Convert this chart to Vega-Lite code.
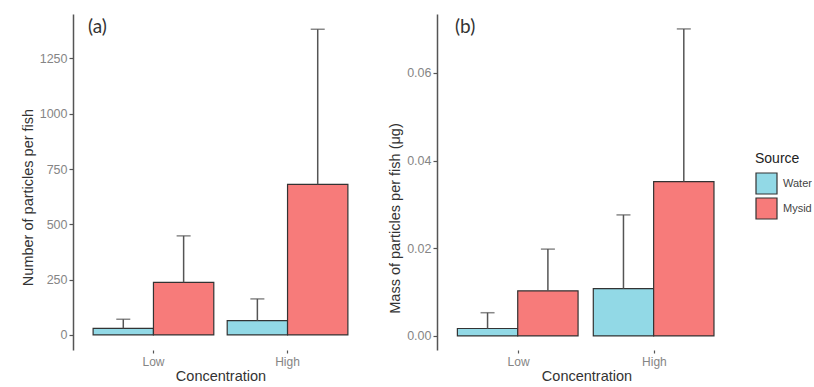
{
  "$schema": "https://vega.github.io/schema/vega-lite/v6.json",
  "background": "white",
  "padding": {"left": 20, "top": 14, "right": 0, "bottom": 0},
  "autosize": {"type": "pad"},
  "spacing": 19,
  "config": {
    "font": "Liberation Sans",
    "view": {"stroke": null},
    "axis": {
      "grid": false,
      "domainColor": "#555555",
      "domainWidth": 1.5,
      "tickColor": "#555555",
      "tickWidth": 1.2,
      "labelColor": "#858585",
      "labelFont": "Liberation Sans",
      "titleFont": "Liberation Sans",
      "titleFontWeight": "normal",
      "titleColor": "#333333"
    },
    "axisX": {"domain": false, "tickSize": 3, "labelFontSize": 12, "labelPadding": 3, "labelAngle": 0, "titleFontSize": 14.5, "titlePadding": 2},
    "axisY": {"tickSize": 4, "labelFontSize": 12.5, "labelPadding": 2, "titleFontSize": 14.5, "titlePadding": 4},
    "legend": {
      "orient": "none",
      "legendX": 682,
      "legendY": 138,
      "symbolType": "square",
      "symbolSize": 441,
      "symbolStrokeColor": "#333333",
      "symbolStrokeWidth": 1.2,
      "symbolOpacity": 1,
      "rowPadding": -3,
      "labelFontSize": 11,
      "labelColor": "#444444",
      "labelOffset": 5,
      "titleFontSize": 14,
      "titleFontWeight": "normal",
      "titleColor": "#222222",
      "titlePadding": 6
    },
    "title": {"font": "Lato", "fontSize": 19, "fontWeight": "normal", "color": "#333333", "anchor": "start", "frame": "group", "offset": 0}
  },
  "datasets": {
    "count": [
      {"Concentration": "Low", "Source": "Water", "mean": 30, "upper": 71},
      {"Concentration": "Low", "Source": "Mysid", "mean": 238, "upper": 448},
      {"Concentration": "High", "Source": "Water", "mean": 65, "upper": 163},
      {"Concentration": "High", "Source": "Mysid", "mean": 681, "upper": 1382}
    ],
    "mass": [
      {"Concentration": "Low", "Source": "Water", "mean": 0.0017, "upper": 0.0053},
      {"Concentration": "Low", "Source": "Mysid", "mean": 0.0103, "upper": 0.0198},
      {"Concentration": "High", "Source": "Water", "mean": 0.0108, "upper": 0.0276},
      {"Concentration": "High", "Source": "Mysid", "mean": 0.0352, "upper": 0.07}
    ]
  },
  "resolve": {"scale": {"color": "shared"}},
  "hconcat": [
    {
      "width": 295,
      "height": 336,
      "title": {"text": "(a)", "dx": 15, "dy": 27},
      "data": {"name": "count"},
      "encoding": {
        "x": {"field": "Concentration", "type": "nominal", "sort": ["Low", "High"], "scale": {"paddingInner": 0.1, "paddingOuter": 0.15}, "title": "Concentration"},
        "xOffset": {"field": "Source", "type": "nominal", "sort": ["Water", "Mysid"], "scale": {"paddingInner": 0, "paddingOuter": 0}}
      },
      "layer": [
        {
          "mark": {"type": "bar", "stroke": "#333333", "strokeWidth": 1.2},
          "encoding": {
            "y": {"field": "mean", "type": "quantitative", "scale": {"domain": [-68, 1451], "nice": false, "zero": false}, "axis": {"values": [0, 250, 500, 750, 1000, 1250], "format": "d", "titleY": 183}, "title": "Number of particles per fish"},
            "y2": {"datum": 0},
            "color": {"field": "Source", "type": "nominal", "sort": ["Water", "Mysid"], "scale": {"domain": ["Water", "Mysid"], "range": ["#92d9e6", "#f77b7a"]}, "title": "Source"}
          }
        },
        {
          "mark": {"type": "rule", "color": "#555555", "strokeWidth": 1.5},
          "encoding": {"y": {"field": "mean", "type": "quantitative"}, "y2": {"field": "upper"}}
        },
        {
          "mark": {"type": "tick", "color": "#555555", "size": 14, "thickness": 1.5},
          "encoding": {"y": {"field": "upper", "type": "quantitative"}}
        }
      ]
    },
    {
      "width": 299,
      "height": 336,
      "title": {"text": "(b)", "dx": 18, "dy": 27},
      "data": {"name": "mass"},
      "encoding": {
        "x": {"field": "Concentration", "type": "nominal", "sort": ["Low", "High"], "scale": {"paddingInner": 0.1, "paddingOuter": 0.15}, "title": "Concentration"},
        "xOffset": {"field": "Source", "type": "nominal", "sort": ["Water", "Mysid"], "scale": {"paddingInner": 0, "paddingOuter": 0}}
      },
      "layer": [
        {
          "mark": {"type": "bar", "stroke": "#333333", "strokeWidth": 1.2},
          "encoding": {
            "y": {"field": "mean", "type": "quantitative", "scale": {"domain": [-0.0032, 0.0734], "nice": false, "zero": false}, "axis": {"values": [0, 0.02, 0.04, 0.06], "format": ".2f", "titleY": 204}, "title": "Mass of particles per fish (μg)"},
            "y2": {"datum": 0},
            "color": {"field": "Source", "type": "nominal", "sort": ["Water", "Mysid"], "scale": {"domain": ["Water", "Mysid"], "range": ["#92d9e6", "#f77b7a"]}, "title": "Source"}
          }
        },
        {
          "mark": {"type": "rule", "color": "#555555", "strokeWidth": 1.5},
          "encoding": {"y": {"field": "mean", "type": "quantitative"}, "y2": {"field": "upper"}}
        },
        {
          "mark": {"type": "tick", "color": "#555555", "size": 14, "thickness": 1.5},
          "encoding": {"y": {"field": "upper", "type": "quantitative"}}
        }
      ]
    }
  ]
}
